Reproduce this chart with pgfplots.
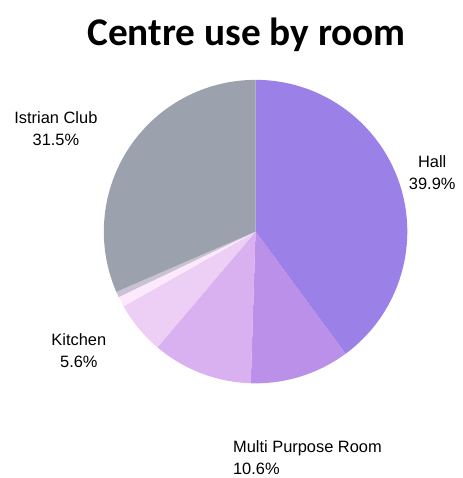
\documentclass[border=0pt]{standalone}
\usepackage{pgfplots}
\usepackage{pgfplotstable}
\pgfplotsset{compat=1.18}
\usepackage{fontspec}
\setmainfont{Liberation Sans}
\newfontfamily\titlefont{Carlito}

% slice colours, in drawing order (clockwise from the top)
\definecolor{slice0}{HTML}{9B80E8}
\definecolor{slice1}{HTML}{BA90E8}
\definecolor{slice2}{HTML}{D9B0F0}
\definecolor{slice3}{HTML}{EDCEF5}
\definecolor{slice4}{HTML}{FDE9FD}
\definecolor{slice5}{HTML}{C9C2D3}
\definecolor{slice6}{HTML}{9CA1AE}

% share of centre use per room, in percent
\pgfplotstableread{
room value
Hall 39.9
MultiPurposeRoom 10.6
Office 10.7
Kitchen 5.6
Meeting 1.1
Store 0.6
IstrianClub 31.5
}\piedata

\begin{document}
\begin{tikzpicture}
\begin{axis}[
  scale only axis,
  width=463bp, height=478bp,
  xmin=0, xmax=463, ymin=0, ymax=478,
  hide axis, clip=false,
]
% keep the whole canvas in the picture
\path (axis cs:0,0) rectangle (axis cs:463,478);

\gdef\cumsum{0}
\pgfplotsinvokeforeach{0,...,6}{
  \pgfplotstablegetelem{#1}{value}\of\piedata
  \let\val\pgfplotsretval
  \pgfmathsetmacro\angA{90-3.6*\cumsum}
  \pgfmathsetmacro\newcum{\cumsum+\val}
  \xdef\cumsum{\newcum}
  \pgfmathsetmacro\angB{90-3.6*\cumsum}
  \edef\pieslice{\noexpand\fill[slice#1] (axis cs:256,246) -- ++(\angA:152bp)
    arc[start angle=\angA, end angle=\angB, radius=152bp] -- cycle;}
  \pieslice
}

\node[font=\titlefont\bfseries\fontsize{39.5}{41}\selectfont] at (axis cs:247,443) {Centre use by room};

\begin{scope}[every node/.style={font=\fontsize{16.5}{22}\selectfont, align=center}]
\node at (axis cs:56,349) {Istrian Club\\31.5\%};
\node at (axis cs:433,305) {Hall\\39.9\%};
\node at (axis cs:79,127) {Kitchen\\5.6\%};
\node[align=left, anchor=north west] at (axis cs:230,40) {Multi Purpose Room\\10.6\%};
\end{scope}
\end{axis}
\end{tikzpicture}
\end{document}
